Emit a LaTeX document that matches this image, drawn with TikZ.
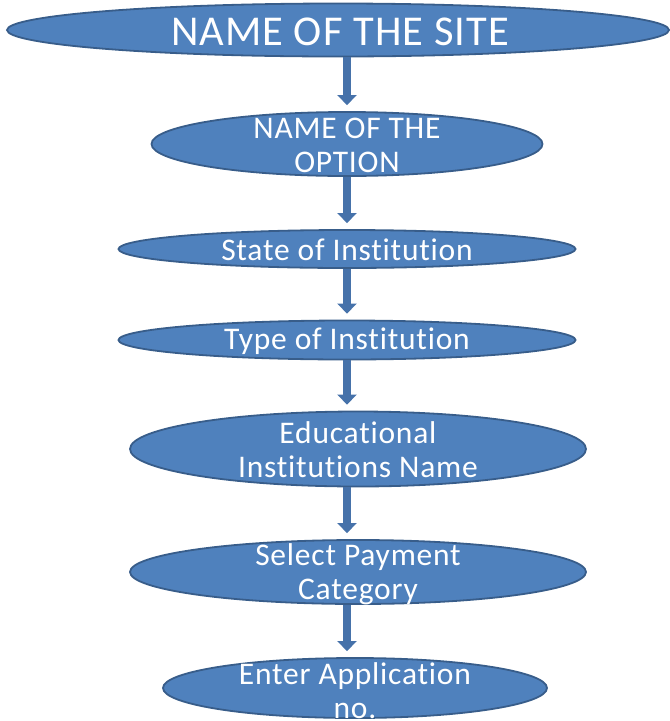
\documentclass[tikz,border=0pt]{standalone}
\usepackage{fontspec}
\setmainfont{Carlito}
\newfontfamily\lblfont[LetterSpace=2.5,Ligatures={NoCommon,NoRequired,NoContextual}]{Carlito}
\usetikzlibrary{shapes.geometric,arrows.meta}
\definecolor{ellfill}{HTML}{4F81BD}
\definecolor{elldraw}{HTML}{385D8A}
\definecolor{arrcol}{HTML}{4672AA}
\begin{document}
\begin{tikzpicture}[x=1pt,y=-1pt,
  ell/.style={ellipse,draw=elldraw,fill=ellfill,line width=1.8pt,inner sep=0pt},
  lbl/.style={text=white,align=center,inner sep=0pt,font=\lblfont\fontsize{31.5}{34}\selectfont},
  conn/.style={draw=arrcol,line width=8pt,shorten >=6pt,
    -{Triangle[width=19pt,length=10pt]}}]
\useasboundingbox (0,0) rectangle (670,721);
\clip (0,0) rectangle (670,721);
\coordinate (ax) at (347,0);
% ellipses
\node[ell,minimum width=662pt,minimum height=53pt] (e1) at (338,30) {};
\node[ell,minimum width=391pt,minimum height=64pt] (e2) at (347,144) {};
\node[ell,minimum width=457pt,minimum height=38pt] (e3) at (347,249) {};
\node[ell,minimum width=457pt,minimum height=39pt] (e4) at (347,340) {};
\node[ell,minimum width=456pt,minimum height=75pt] (e5) at (358,449) {};
\node[ell,minimum width=456pt,minimum height=64pt] (e6) at (358,572) {};
\node[ell,minimum width=384pt,minimum height=60pt] (e7) at (355,688) {};
% labels
\node[lbl,font=\lblfont\fontsize{42.5}{46}\selectfont] (t1) at (340,32) {NAME OF THE SITE};
\node[lbl] (t2) at (347,145) {NAME OF THE\\OPTION};
\node[lbl] (t3) at (347,250) {State of Institution};
\node[lbl] (t4) at (347,341) {Type of Institution};
\node[lbl] (t5) at (358,450) {Educational\\Institutions Name};
\node[lbl] (t6) at (358,574) {Select Payment\\Category};
\node[lbl] (t7) at (355,691) {Enter Application\\no.};
% connectors
\draw[conn] (e1.south -| ax) -- (e2.north -| ax);
\draw[conn] (e2.south -| ax) -- (e3.north -| ax);
\draw[conn] (e3.south -| ax) -- (e4.north -| ax);
\draw[conn] (e4.south -| ax) -- (e5.north -| ax);
\draw[conn] (e5.south -| ax) -- (e6.north -| ax);
\draw[conn] (e6.south -| ax) -- (e7.north -| ax);
\end{tikzpicture}
\end{document}
